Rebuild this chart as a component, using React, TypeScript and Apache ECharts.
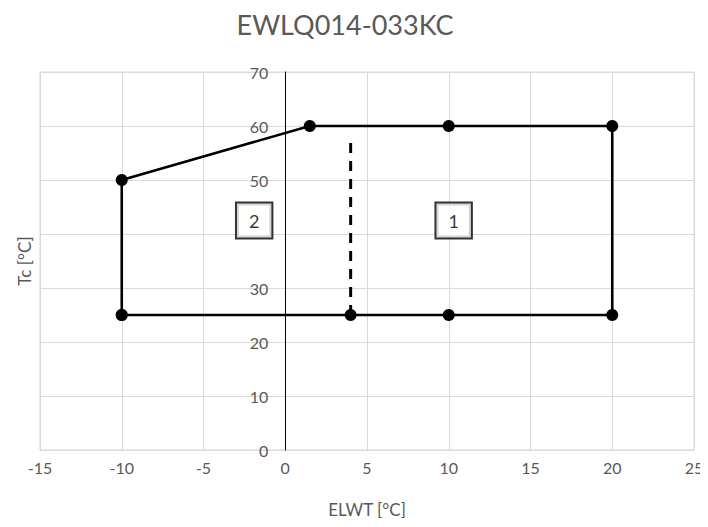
import React, { useEffect, useRef } from "react";
import * as echarts from "echarts";

const TITLE = "EWLQ014-033KC";
const X_NAME = "ELWT [°C]";
const Y_NAME = "Tc [°C]";
const X_MIN = -15;
const X_MAX = 25;
const envelopeX = [-10, -10, 1.5, 10, 20, 20, 10, 4, -10];
const envelopeY = [25, 50, 60, 60, 60, 25, 25, 25, 25];
const dividerX = [4, 4];
const dividerY = [25, 58];
const zoneNames = ["1", "2"];
const zoneX = [10.3, -1.9];
const zoneY = [42.5, 42.5];
// the "40" tick label is hidden behind zone box 2 in the reference
const hiddenYLabels = [40];

const FONT = "Lato, 'Open Sans', sans-serif";
const W = 708;
const H = 527;
const GRID_LEFT = 40;
const GRID_RIGHT = 14;

export default function App() {
  const ref = useRef<HTMLDivElement>(null);
  useEffect(() => {
    if (!ref.current) return;
    const chart = echarts.init(ref.current, undefined, { renderer: "svg" });
    const plotW = W - GRID_LEFT - GRID_RIGHT;
    const zeroOffset = (plotW * (0 - X_MIN)) / (X_MAX - X_MIN);
    chart.setOption({
      animation: false,
      backgroundColor: "#ffffff",
      textStyle: { fontFamily: FONT },
      title: {
        text: TITLE,
        left: 340,
        top: 6,
        textAlign: "center",
        textStyle: { fontSize: 27, fontWeight: "normal", color: "#595959", fontFamily: FONT },
      },
      grid: {
        left: GRID_LEFT,
        right: GRID_RIGHT,
        top: 72,
        bottom: 77,
        show: true,
        borderColor: "#d9d9d9",
        borderWidth: 1,
      },
      xAxis: {
        type: "value",
        min: X_MIN,
        max: X_MAX,
        interval: 5,
        name: X_NAME,
        nameLocation: "middle",
        nameGap: 51,
        nameTextStyle: { fontSize: 17, color: "#595959", fontFamily: FONT },
        axisLine: { show: false },
        axisTick: { show: false },
        axisLabel: { fontSize: 16, color: "#595959", margin: 9, fontFamily: FONT },
        splitLine: { show: true, lineStyle: { color: "#d9d9d9", width: 1 } },
      },
      yAxis: {
        type: "value",
        min: 0,
        max: 70,
        interval: 10,
        offset: -zeroOffset,
        axisLine: { show: true, onZero: false, lineStyle: { color: "#000000", width: 1 } },
        axisTick: { show: false },
        axisLabel: {
          fontSize: 16,
          color: "#595959",
          margin: 17,
          fontFamily: FONT,
          formatter: (v: number) => (hiddenYLabels.includes(v) ? "" : String(v)),
        },
        splitLine: { show: true, lineStyle: { color: "#d9d9d9", width: 1 } },
      },
      graphic: [
        {
          type: "text",
          x: 24,
          y: 261,
          rotation: Math.PI / 2,
          style: {
            text: Y_NAME,
            fontSize: 17,
            fill: "#595959",
            fontFamily: FONT,
            align: "center",
            verticalAlign: "middle",
          },
        },
      ],
      series: [
        {
          type: "line",
          data: envelopeX.map((x, i) => [x, envelopeY[i]]),
          symbol: "circle",
          symbolSize: 12,
          itemStyle: { color: "#000000" },
          lineStyle: { color: "#000000", width: 2.6 },
          z: 3,
        },
        {
          type: "line",
          data: dividerX.map((x, i) => [x, dividerY[i]]),
          symbol: "none",
          lineStyle: { color: "#000000", width: 3, type: [10, 8] },
          z: 2,
        },
        {
          type: "scatter",
          data: zoneX.map((x, i) => ({ value: [x, zoneY[i]], name: zoneNames[i] })),
          symbolSize: 1,
          itemStyle: { color: "transparent" },
          label: {
            show: true,
            position: "inside",
            formatter: (p: any) => p.name,
            fontSize: 18,
            lineHeight: 20,
            color: "#000000",
            fontFamily: FONT,
            backgroundColor: "#ffffff",
            borderColor: "#000000",
            borderWidth: 2,
            padding: [7, 12, 7, 12],
          },
          z: 4,
        },
      ],
    });
    return () => chart.dispose();
  }, []);
  return <div ref={ref} style={{ width: W, height: H, margin: -8 }} />;
}
